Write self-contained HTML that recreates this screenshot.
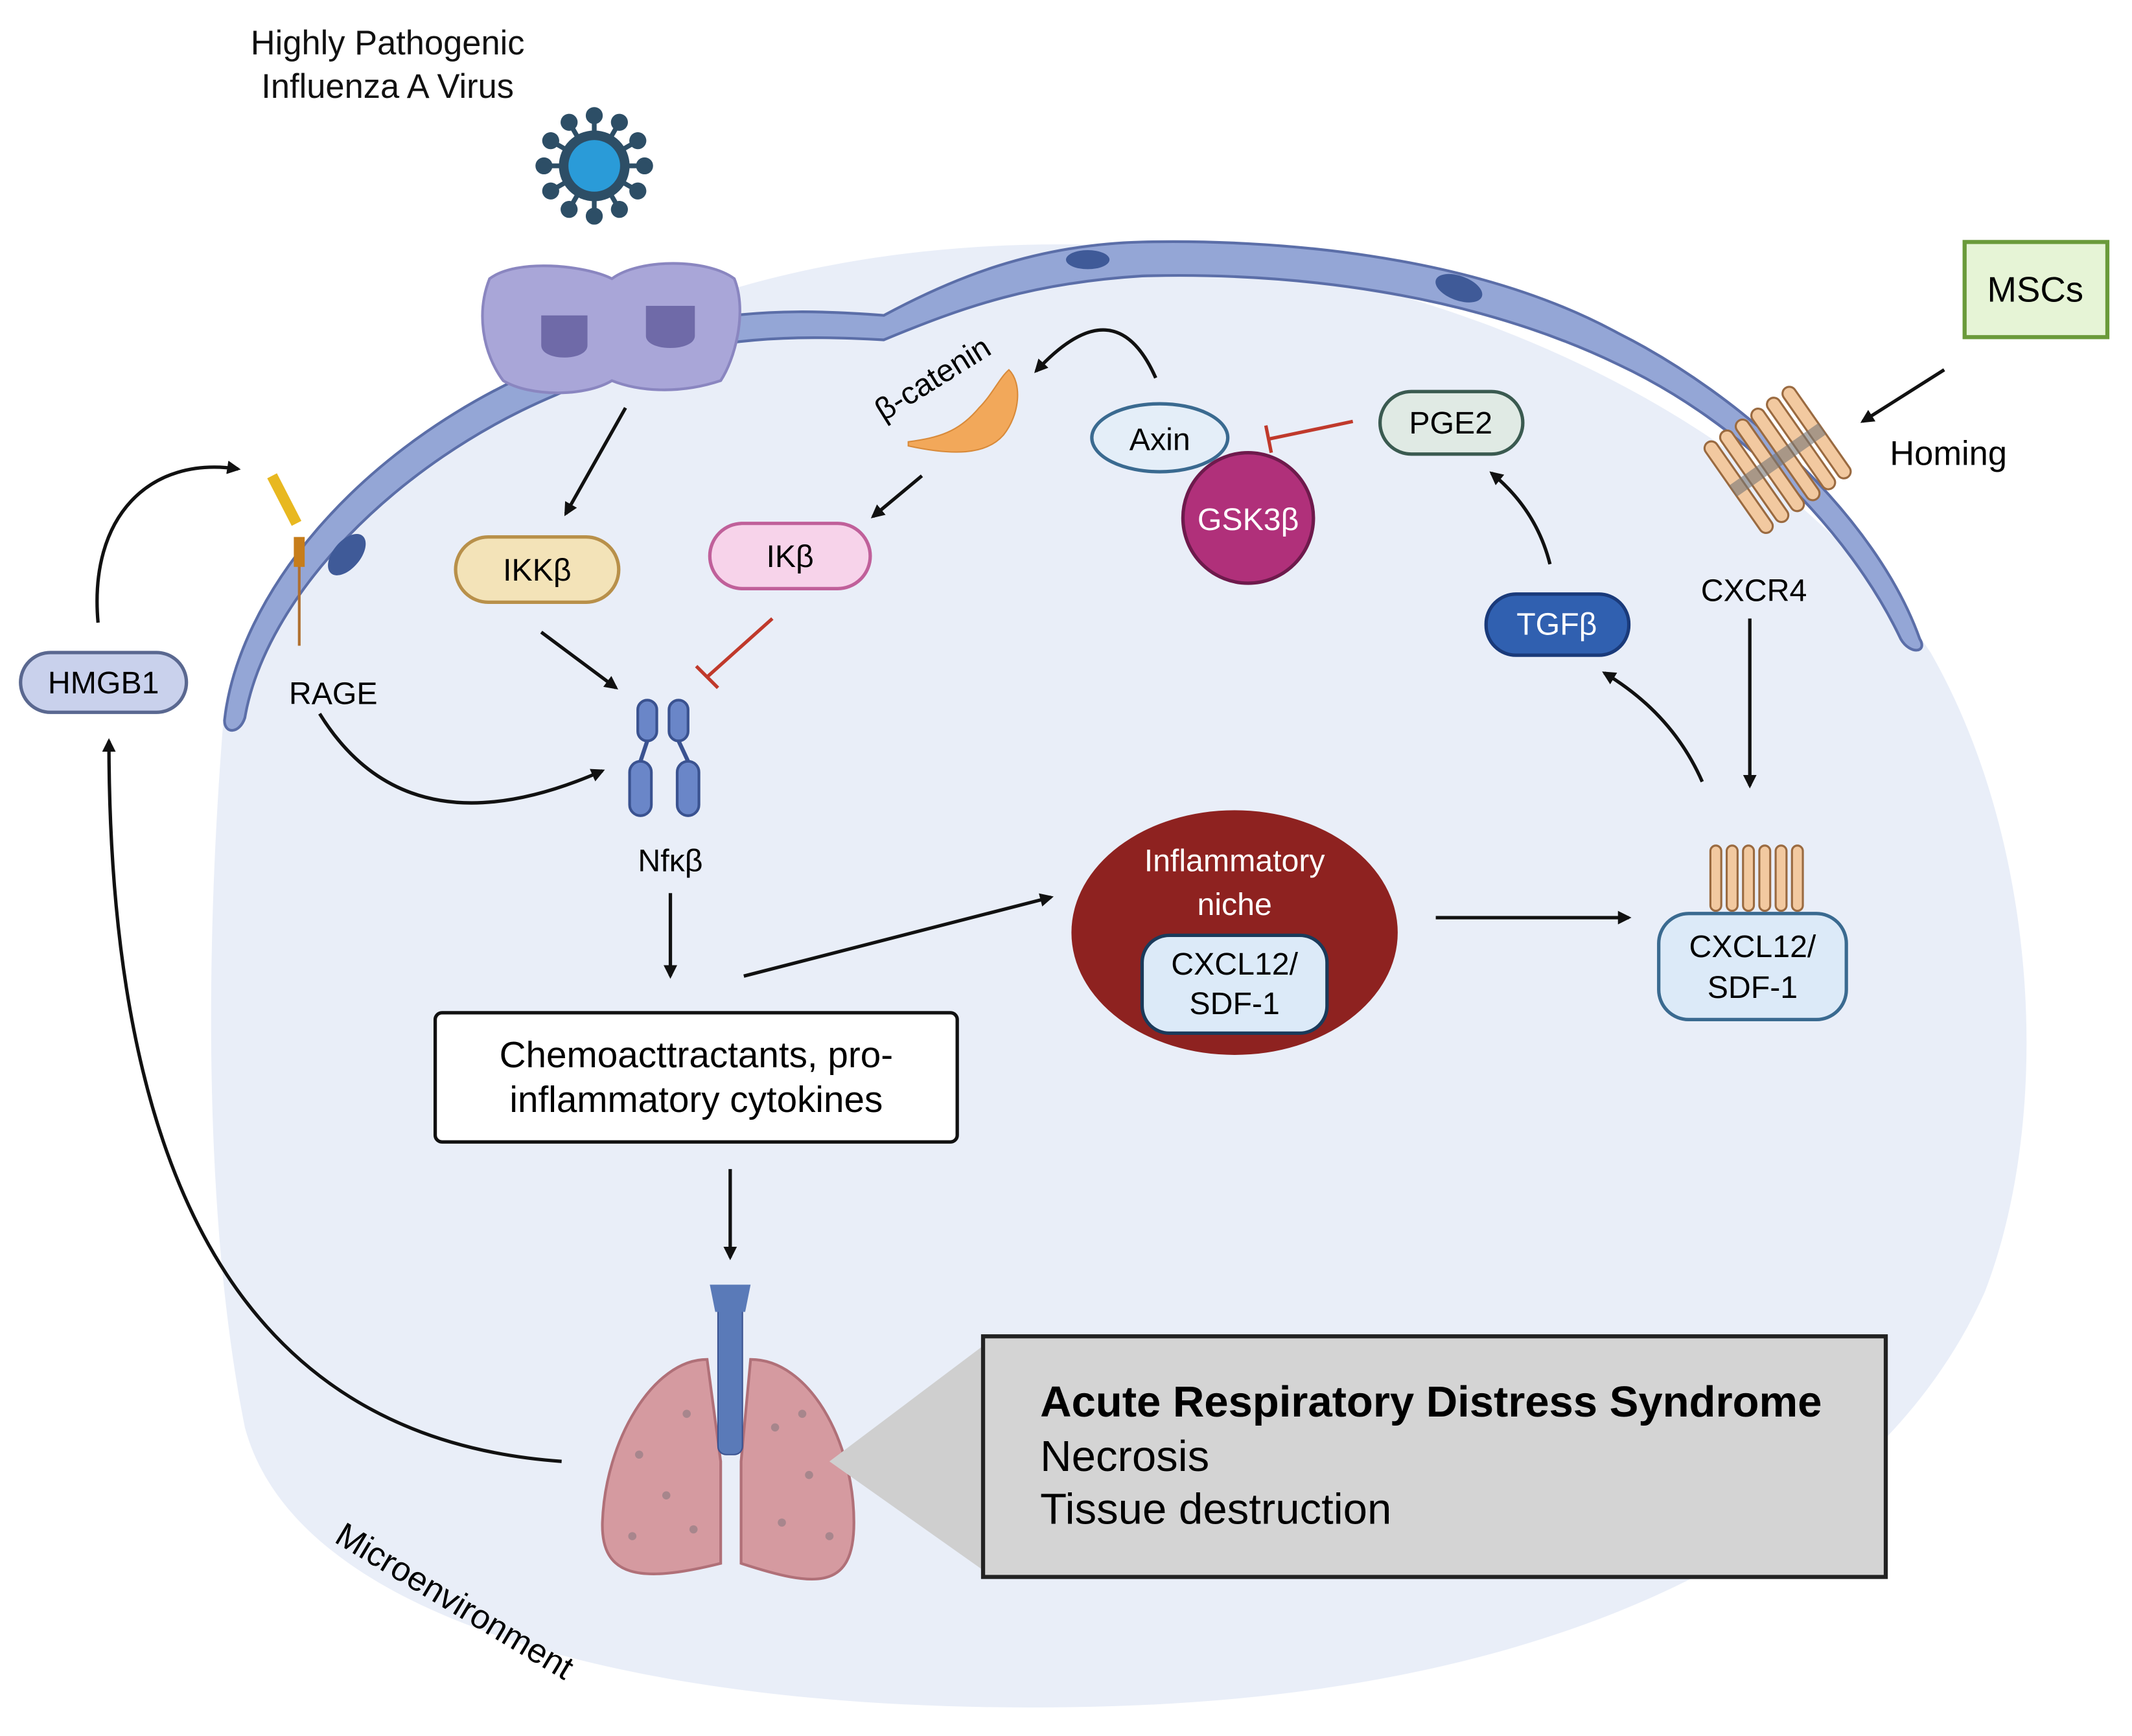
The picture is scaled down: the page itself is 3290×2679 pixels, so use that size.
<!DOCTYPE html>
<html><head><meta charset="utf-8"><style>
html,body{margin:0;padding:0;background:#fff}
svg{display:block}
text{font-family:"Liberation Sans",sans-serif}
</style></head><body>
<svg width="3290" height="2679" viewBox="0 0 1568 1277" xmlns="http://www.w3.org/2000/svg">
<defs>
<marker id="ah" markerWidth="10" markerHeight="10" refX="8" refY="5" orient="auto" markerUnits="userSpaceOnUse" viewBox="0 0 10 10">
<path d="M0,0 L10,5 L0,10 z" fill="#111"/></marker>
</defs>
<!-- blob -->
<path d="M165,520 C150,700 150,900 180,1050 C220,1200 500,1265 820,1255 C1150,1245 1380,1130 1460,950 C1510,820 1500,620 1420,480 C1300,300 1050,190 800,180 C550,175 300,260 165,520 Z" fill="#e9eef8"/>
<!-- membrane -->
<path d="M165,530 C175,440 260,330 400,270 C500,230 560,225 650,232 C700,205 760,180 840,178 C930,176 1080,185 1190,245 C1280,290 1380,380 1412,470 C1418,480 1405,482 1398,470 C1360,390 1280,310 1190,268 C1080,215 950,200 840,203 C760,208 710,225 650,250 C560,245 500,250 410,290 C290,340 195,440 180,528 C176,540 165,540 165,530 Z" fill="#94a6d6" stroke="#5b6ea8" stroke-width="2"/>
<ellipse cx="255" cy="408" rx="10" ry="18" transform="rotate(40 255 408)" fill="#3f5a98"/>
<ellipse cx="800" cy="191" rx="16" ry="7" fill="#3f5a98"/>
<ellipse cx="1073" cy="212" rx="18" ry="9" transform="rotate(20 1073 212)" fill="#3f5a98"/>
<!-- title -->
<text x="285" y="40" font-size="25" text-anchor="middle" fill="#111">Highly Pathogenic</text>
<text x="285" y="72" font-size="25" text-anchor="middle" fill="#111">Influenza A Virus</text>
<!-- virus -->
<g stroke="#2d4e66" stroke-width="3.5" fill="#2d4e66">
<g id="sp"><line x1="437" y1="122" x2="437" y2="86"/><circle cx="437" cy="85" r="4.5"/></g>
<use href="#sp" transform="rotate(30 437 122)"/><use href="#sp" transform="rotate(60 437 122)"/>
<use href="#sp" transform="rotate(90 437 122)"/><use href="#sp" transform="rotate(120 437 122)"/>
<use href="#sp" transform="rotate(150 437 122)"/><use href="#sp" transform="rotate(180 437 122)"/>
<use href="#sp" transform="rotate(210 437 122)"/><use href="#sp" transform="rotate(240 437 122)"/>
<use href="#sp" transform="rotate(270 437 122)"/><use href="#sp" transform="rotate(300 437 122)"/>
<use href="#sp" transform="rotate(330 437 122)"/>
</g>
<circle cx="437" cy="122" r="26" fill="#2d4e66"/>
<circle cx="437" cy="122" r="19" fill="#2a9bd8"/>
<!-- cells -->
<path d="M360,205 C380,190 430,195 450,205 C470,190 520,190 540,205 C550,230 540,265 530,280 C500,290 470,288 450,280 C430,292 390,292 370,280 C355,260 350,230 360,205 Z" fill="#a9a6d8" stroke="#8a86c0" stroke-width="2"/>
<path d="M398,232 h34 v22 c0,12 -34,12 -34,0 z" fill="#6f6aa8"/>
<path d="M475,225 h36 v22 c0,12 -36,12 -36,0 z" fill="#6f6aa8"/>
<!-- MSCs -->
<rect x="1445" y="178" width="105" height="70" fill="#e6f4d6" stroke="#6a9a3a" stroke-width="3"/>
<text x="1497" y="222" font-size="26" text-anchor="middle">MSCs</text>
<text x="1390" y="342" font-size="25">Homing</text>
<!-- CXCR4 receptor -->
<g transform="rotate(-35 1305 340)">
<g fill="#f2c9a0" stroke="#9a6a40" stroke-width="1.5">
<rect x="1268" y="300" width="10" height="80" rx="5"/><rect x="1282" y="300" width="10" height="80" rx="5"/>
<rect x="1296" y="300" width="10" height="80" rx="5"/><rect x="1310" y="300" width="10" height="80" rx="5"/>
<rect x="1324" y="300" width="10" height="80" rx="5"/><rect x="1338" y="300" width="10" height="80" rx="5"/>
</g><rect x="1268" y="335" width="80" height="10" fill="#777" opacity="0.6"/></g>
<text x="1290" y="442" font-size="23" text-anchor="middle">CXCR4</text>
<!-- RAGE -->
<line x1="220" y1="400" x2="220" y2="475" stroke="#b07030" stroke-width="2"/>
<rect x="216" y="395" width="8" height="22" fill="#c77d1a"/>
<path d="M200,350 L218,385" stroke="#e8b820" stroke-width="8"/>
<text x="245" y="518" font-size="23" text-anchor="middle">RAGE</text>
<!-- HMGB1 -->
<rect x="15" y="480" width="122" height="44" rx="22" fill="#c9d1ec" stroke="#5a6890" stroke-width="2.5"/>
<text x="76" y="510" font-size="23" text-anchor="middle">HMGB1</text>
<!-- IKKb -->
<rect x="335" y="395" width="120" height="48" rx="24" fill="#f3e3b8" stroke="#b8904a" stroke-width="2.5"/>
<text x="395" y="427" font-size="23" text-anchor="middle">IKKβ</text>
<!-- IKb -->
<rect x="522" y="385" width="118" height="48" rx="24" fill="#f7d3ea" stroke="#c0609a" stroke-width="2.5"/>
<text x="581" y="417" font-size="23" text-anchor="middle">IKβ</text>
<!-- beta-catenin -->
<text x="690" y="285" font-size="23" text-anchor="middle" transform="rotate(-32 690 285)">β-catenin</text>
<path d="M668,325 C690,322 705,318 720,300 C730,290 735,278 742,272 C752,282 750,305 738,320 C725,335 700,335 668,328 Z" fill="#f2a85a" stroke="#d88a3a"/>
<!-- Axin -->
<ellipse cx="853" cy="322" rx="50" ry="25" fill="#e4eef8" stroke="#3a6a90" stroke-width="2.5"/>
<text x="853" y="331" font-size="23" text-anchor="middle">Axin</text>
<circle cx="918" cy="381" r="48" fill="#b0307a" stroke="#6e1a4c" stroke-width="2.5"/>
<text x="918" y="390" font-size="23" text-anchor="middle" fill="#fff">GSK3β</text>
<!-- PGE2 -->
<rect x="1015" y="288" width="105" height="46" rx="23" fill="#e0eae4" stroke="#3a5a50" stroke-width="2.5"/>
<text x="1067" y="319" font-size="23" text-anchor="middle">PGE2</text>
<!-- TGFb -->
<rect x="1093" y="437" width="105" height="45" rx="22" fill="#3060b0" stroke="#1a3a7a" stroke-width="2.5"/>
<text x="1145" y="467" font-size="23" text-anchor="middle" fill="#fff">TGFβ</text>
<!-- Nfkb -->
<g fill="#6a86c8" stroke="#3a5290" stroke-width="2">
<rect x="469" y="515" width="14" height="30" rx="7"/><rect x="492" y="515" width="14" height="30" rx="7"/>
<rect x="463" y="560" width="16" height="40" rx="8"/><rect x="498" y="560" width="16" height="40" rx="8"/>
</g>
<path d="M476,545 L471,560 M499,545 L506,560" stroke="#3a5290" stroke-width="3"/>
<text x="493" y="641" font-size="23" text-anchor="middle">Nfκβ</text>
<!-- niche -->
<ellipse cx="908" cy="686" rx="120" ry="90" fill="#8e2220"/>
<text x="908" y="641" font-size="23" text-anchor="middle" fill="#fff">Inflammatory</text>
<text x="908" y="673" font-size="23" text-anchor="middle" fill="#fff">niche</text>
<rect x="840" y="688" width="136" height="72" rx="20" fill="#dceaf8" stroke="#1a3a5a" stroke-width="2.5"/>
<text x="908" y="717" font-size="23" text-anchor="middle">CXCL12/</text>
<text x="908" y="746" font-size="23" text-anchor="middle">SDF-1</text>
<!-- CXCL12 right -->
<g fill="#f2c9a0" stroke="#9a6a40" stroke-width="1.5">
<rect x="1258" y="622" width="8" height="48" rx="4"/><rect x="1270" y="622" width="8" height="48" rx="4"/>
<rect x="1282" y="622" width="8" height="48" rx="4"/><rect x="1294" y="622" width="8" height="48" rx="4"/>
<rect x="1306" y="622" width="8" height="48" rx="4"/><rect x="1318" y="622" width="8" height="48" rx="4"/>
</g>
<rect x="1220" y="672" width="138" height="78" rx="22" fill="#dceaf8" stroke="#3a6a90" stroke-width="2.5"/>
<text x="1289" y="704" font-size="23" text-anchor="middle">CXCL12/</text>
<text x="1289" y="734" font-size="23" text-anchor="middle">SDF-1</text>
<!-- chemo box -->
<rect x="320" y="745" width="384" height="95" rx="5" fill="#fff" stroke="#111" stroke-width="2.5"/>
<text x="512" y="785" font-size="27" text-anchor="middle">Chemoacttractants, pro-</text>
<text x="512" y="818" font-size="27" text-anchor="middle">inflammatory cytokines</text>
<!-- lungs -->
<path d="M520,1000 C480,1000 445,1060 443,1120 C442,1160 470,1165 530,1150 L530,1075 Z" fill="#d59aa0" stroke="#b07078" stroke-width="2"/>
<path d="M552,1000 C595,1000 628,1060 628,1120 C628,1170 600,1168 545,1150 L545,1075 Z" fill="#d59aa0" stroke="#b07078" stroke-width="2"/>
<g fill="#8a7a80" opacity="0.6">
<circle cx="470" cy="1070" r="3"/><circle cx="490" cy="1100" r="3"/><circle cx="465" cy="1130" r="3"/><circle cx="505" cy="1040" r="3"/><circle cx="510" cy="1125" r="3"/>
<circle cx="570" cy="1050" r="3"/><circle cx="595" cy="1085" r="3"/><circle cx="575" cy="1120" r="3"/><circle cx="610" cy="1130" r="3"/><circle cx="590" cy="1040" r="3"/>
</g>
<rect x="528" y="950" width="18" height="120" rx="6" fill="#5a7ab8" stroke="#3a5290"/>
<path d="M522,945 L552,945 L548,965 L526,965 Z" fill="#5a7ab8"/>
<!-- gray box -->
<path d="M610,1075 L723,990 L723,1155 Z" fill="#cfcfcf"/>
<rect x="723" y="983" width="664" height="177" fill="#d4d4d4" stroke="#222" stroke-width="3"/>
<text x="765" y="1042" font-size="32" font-weight="bold" textLength="575">Acute Respiratory Distress Syndrome</text>
<text x="765" y="1082" font-size="32">Necrosis</text>
<text x="765" y="1121" font-size="32">Tissue destruction</text>
<text x="330" y="1185" font-size="25" transform="rotate(31 330 1185)" text-anchor="middle">Microenvironment</text>
<!-- arrows -->
<g stroke="#111" stroke-width="2.5" fill="none" marker-end="url(#ah)">
<path d="M72,458 C65,380 110,335 175,345"/>
<path d="M413,1075 C200,1060 80,900 80,545"/>
<path d="M460,300 L416,378"/>
<path d="M398,465 L453,506"/>
<path d="M235,525 Q300,630 443,567"/>
<path d="M678,350 L642,380"/>
<path d="M850,278 Q820,210 762,273"/>
<path d="M1140,415 Q1130,375 1097,348"/>
<path d="M1252,575 Q1230,525 1180,495"/>
<path d="M1287,455 L1287,578"/>
<path d="M1430,272 L1370,310"/>
<path d="M493,657 L493,718"/>
<path d="M547,718 L773,660"/>
<path d="M1056,675 L1198,675"/>
<path d="M537,860 L537,925"/>
</g>
<g stroke="#c0392b" stroke-width="2.5">
<line x1="568" y1="455" x2="520" y2="498"/><line x1="512" y1="490" x2="528" y2="506"/>
<line x1="995" y1="310" x2="933" y2="323"/><line x1="931" y1="313" x2="935" y2="333"/>
</g>
</svg>
</body></html>
